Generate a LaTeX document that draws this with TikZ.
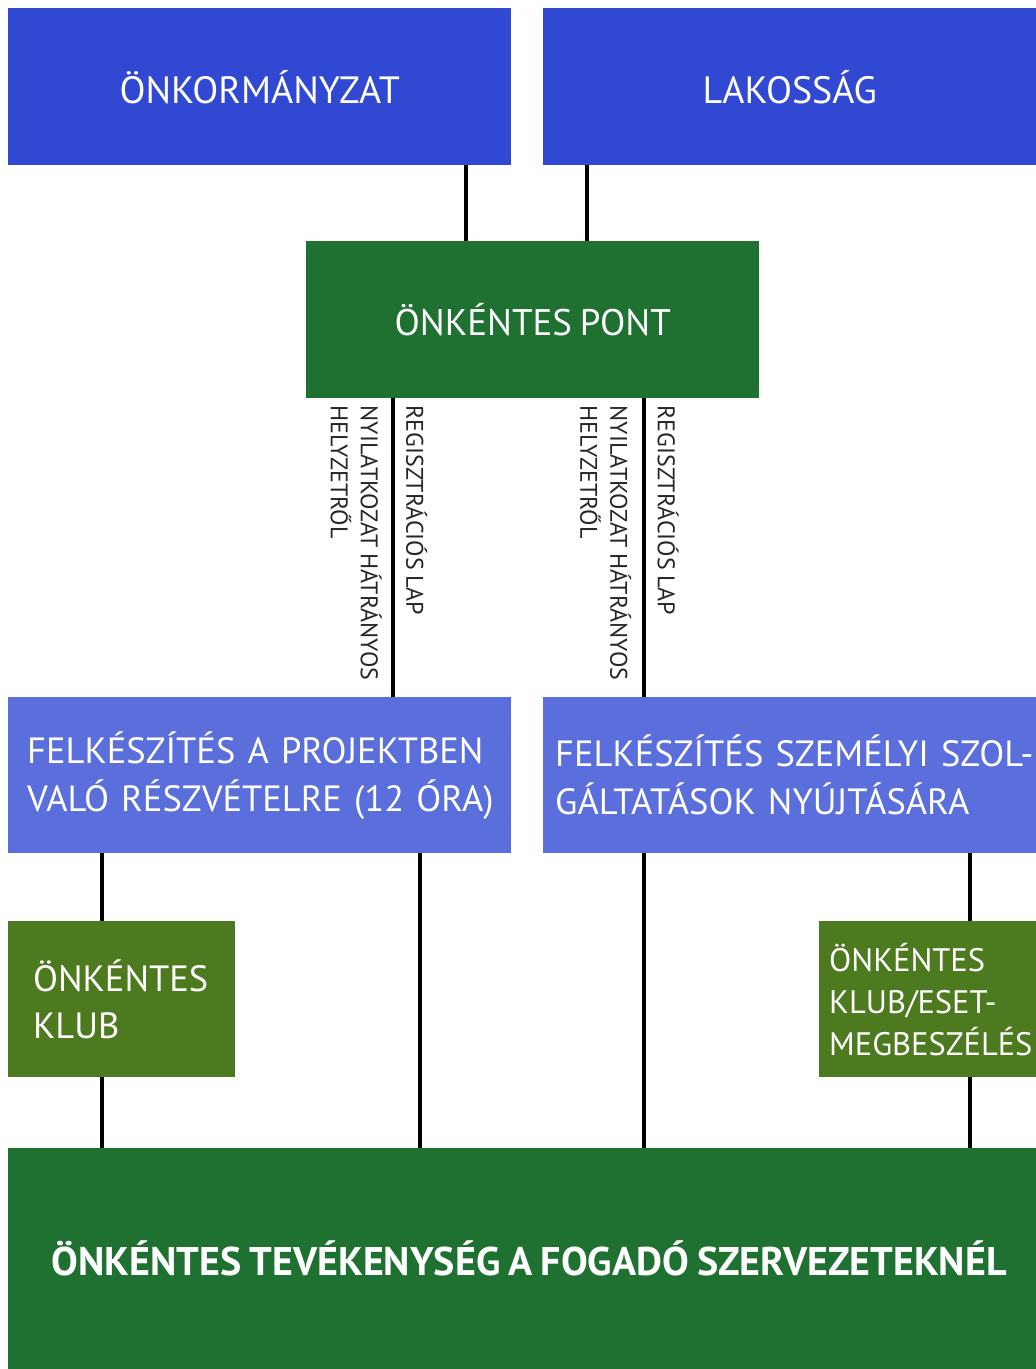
\documentclass[tikz,border=0pt]{standalone}
\usepackage{fontspec}
\setmainfont{PT Sans}[WordSpace=0.8]
\usetikzlibrary{positioning}
\definecolor{topblue}{HTML}{3048D2}
\definecolor{prepblue}{HTML}{5A6EDC}
\definecolor{pointgreen}{HTML}{1E7130}
\definecolor{clubgreen}{HTML}{4E7A1F}
\hyphenpenalty=10000
\begin{document}
\begin{tikzpicture}[
    x=1pt, y=-1pt,
    box/.style={anchor=north west, inner ysep=0pt, text=white, minimum height=157pt},
    topbox/.style={box, fill=topblue, inner xsep=0pt, font=\fontsize{38}{44}\selectfont},
    pointbox/.style={box, fill=pointgreen, inner xsep=0pt, font=\fontsize{37}{44}\selectfont},
    prepbox/.style={box, fill=prepblue, align=left, minimum height=156pt, font=\fontsize{36.5}{48}\selectfont},
    clubbox/.style={box, fill=clubgreen, align=left, minimum height=156pt},
    link/.style={line width=4pt, black},
    docnote/.style={rotate=-90, inner sep=0pt, align=left, text=black!85, font=\fontsize{24}{30}\selectfont}
  ]
  \fill[white] (0,0) rectangle (1036,1369);
  \useasboundingbox (0,0) rectangle (1036,1369);
  \node[topbox, minimum width=503pt] (onk) at (8,8) {ÖNKORMÁNYZAT};
  \node[topbox, minimum width=493pt] (lak) at (543,8) {LAKOSSÁG};
  \node[pointbox, minimum width=453pt] (pont) at (306,241) {ÖNKÉNTES PONT};
  \node[prepbox, inner xsep=19pt, text width=465pt] (felk1) at (8,697) {\mbox{FELKÉSZÍTÉS A PROJEKTBEN}\\\mbox{VALÓ RÉSZVÉTELRE (12 ÓRA)}};
  \node[prepbox, inner xsep=12pt, text width=469pt] (felk2) at (543,697) {\mbox{FELKÉSZÍTÉS SZEMÉLYI SZOL-}\\\mbox{GÁLTATÁSOK NYÚJTÁSÁRA}};
  \node[clubbox, inner xsep=25pt, text width=177pt, font=\fontsize{36.5}{47}\selectfont] (klub1) at (8,921) {ÖNKÉNTES\\KLUB};
  \node[clubbox, inner xsep=10pt, text width=197pt, font=\fontsize{32.5}{42}\selectfont] (klub2) at (819,921) {ÖNKÉNTES\\KLUB/ESET-\\MEGBESZÉLÉS};
  \node[box, fill=pointgreen, inner xsep=0pt, minimum width=1028pt, minimum height=221pt, font=\bfseries\fontsize{40}{44}\selectfont] (vegso) at (8,1148) {\hspace*{14pt}ÖNKÉNTES TEVÉKENYSÉG A FOGADÓ SZERVEZETEKNÉL};
  \draw[link] ([xshift=-45pt]onk.south east) -- ([xshift=-45pt]onk.south east |- pont.north);
  \draw[link] ([xshift=44pt]lak.south west) -- ([xshift=44pt]lak.south west |- pont.north);
  \coordinate (regA) at ([xshift=87pt]pont.south west);
  \coordinate (regB) at ([xshift=-115pt]pont.south east);
  \draw[link] (regA) -- (regA |- felk1.north);
  \draw[link] (regB) -- (regB |- felk2.north);
  \node[docnote, anchor=south west] (lapA) at ([xshift=13pt, yshift=-7pt]regA) {REGISZTRÁCIÓS LAP};
  \node[docnote, anchor=north west] (nyilA) at ([xshift=-11pt, yshift=-7pt]regA) {NYILATKOZAT HÁTRÁNYOS\\HELYZETRŐL};
  \node[docnote, anchor=south west] (lapB) at ([xshift=13pt, yshift=-7pt]regB) {REGISZTRÁCIÓS LAP};
  \node[docnote, anchor=north west] (nyilB) at ([xshift=-13pt, yshift=-7pt]regB) {NYILATKOZAT HÁTRÁNYOS\\HELYZETRŐL};
  \draw[link] ([xshift=94pt]felk1.south west) -- ([xshift=94pt]felk1.south west |- klub1.north);
  \draw[link] ([xshift=94pt]klub1.south west) -- ([xshift=94pt]klub1.south west |- vegso.north);
  \draw[link] ([xshift=-91pt]felk1.south east) -- ([xshift=-91pt]felk1.south east |- vegso.north);
  \draw[link] ([xshift=101pt]felk2.south west) -- ([xshift=101pt]felk2.south west |- vegso.north);
  \draw[link] ([xshift=151pt]klub2.north west) -- ([xshift=151pt]klub2.north west |- felk2.south);
  \draw[link] ([xshift=151pt]klub2.south west) -- ([xshift=151pt]klub2.south west |- vegso.north);
\end{tikzpicture}
\end{document}
